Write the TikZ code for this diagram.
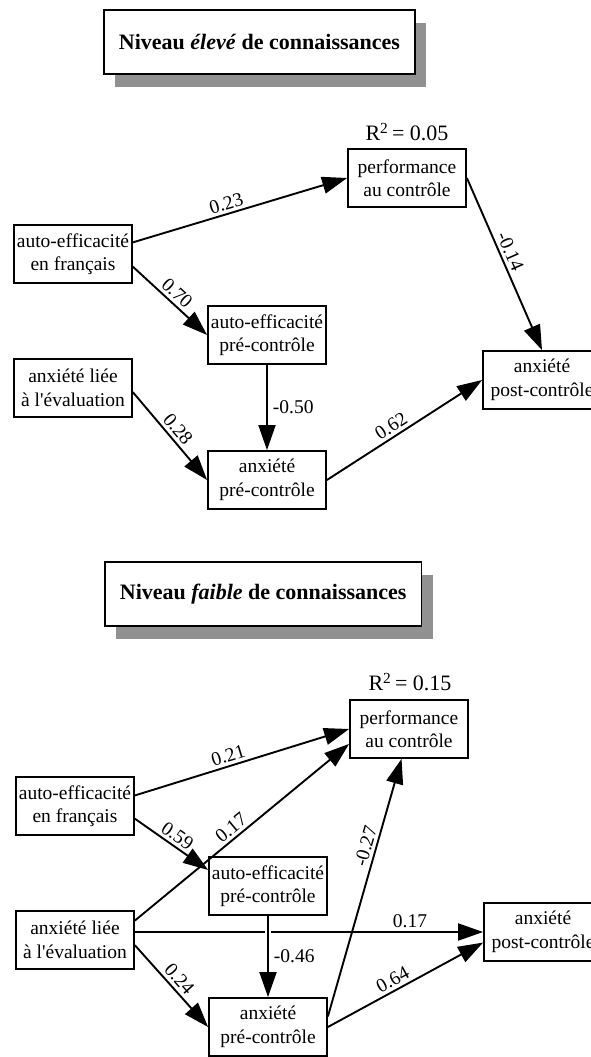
\documentclass[tikz,border=0pt]{standalone}
\usepackage{xcolor}
\usepackage{fontspec}
\setmainfont{Liberation Serif}
\usepackage{tikz}
\usetikzlibrary{arrows.meta,shadows}

\definecolor{shadowgray}{RGB}{145,145,145}

\begin{document}
\begin{tikzpicture}[x=1pt,y=-1pt,
	var/.style={draw, line width=1.8pt, fill=white, minimum width=118pt, minimum height=58pt, inner sep=1pt, align=center, font=\fontsize{19.5}{23.5}\selectfont},
	titlebox/.style={draw, line width=1.8pt, fill=white, minimum height=64pt, inner xsep=15pt, anchor=west, font=\fontsize{22}{26}\selectfont\bfseries, drop shadow={shadow xshift=11pt, shadow yshift=-13pt, fill=shadowgray, opacity=1}},
	rsq/.style={font=\fontsize{22}{26}\selectfont},
	effect/.style={draw, line width=1.9pt, -{Triangle[length=25pt,width=17pt]}},
	coef/.style={font=\fontsize{19.5}{23.5}\selectfont, sloped, above, inner sep=3pt},
	coefv/.style={font=\fontsize{19.5}{23.5}\selectfont, right, inner sep=5pt}]
	\path[fill=white] (0,0) rectangle (591,1057);
	\useasboundingbox (0,0) rectangle (591,1057);

	% niveau eleve
	\path (103,42) node[titlebox] (title1) {Niveau \textit{élevé} de connaissances};
	\path (407,132) node[rsq] (r1) {R\textsuperscript{2}\,= 0.05};
	\path (407,178) node[var] (perf1) {performance\\au contrôle};
	\path (73,254) node[var] (A1) {auto-efficacité\\en français};
	\path (267,335) node[var] (B1) {auto-efficacité\\pré-contrôle};
	\path (73,388) node[var] (C1) {anxiété liée\\à l\textquotesingle évaluation};
	\path (267,480) node[var] (D1) {anxiété\\pré-contrôle};
	\path (542,380) node[var] (E1) {anxiété\\post-contrôle};

	\draw[effect] (A1.11) -- (perf1.west) node[coef,pos=0.45] (c1a) {0.23};
	\draw[effect] (A1.-12) -- (B1.west) node[coef,pos=0.5] (c1b) {0.70};
	\draw[effect] (perf1.east) -- (E1.north) node[coef,pos=0.45] (c1c) {-0.14};
	\draw[effect] (B1.south) -- (D1.north) node[coefv,midway] (c1d) {-0.50};
	\draw[effect] (C1.-4) -- (D1.west) node[coef,pos=0.5] (c1e) {0.28};
	\draw[effect] (D1.east) -- (E1.west) node[coef,pos=0.45] (c1f) {0.62};

	% niveau faible
	\path (104,594) node[titlebox] (title2) {Niveau \textit{faible} de connaissances};
	\path (410,682) node[rsq] (r2) {R\textsuperscript{2}\,= 0.15};
	\path (409,729) node[var] (perf2) {performance\\au contrôle};
	\path (75,806) node[var] (A2) {auto-efficacité\\en français};
	\path (268,886) node[var] (B2) {auto-efficacité\\pré-contrôle};
	\path (75,940) node[var] (C2) {anxiété liée\\à l\textquotesingle évaluation};
	\path (268,1027) node[var] (D2) {anxiété\\pré-contrôle};
	\path (543,932) node[var] (E2) {anxiété\\post-contrôle};

	\draw[effect] (A2.10) -- (perf2.west) node[coef,pos=0.45] (c2a) {0.21};
	\draw[effect] (A2.-12) -- (B2.165) node[coef,pos=0.5] (c2b) {0.59};
	\draw[effect] (C2.18) -- (perf2.194) node[coef,pos=0.48] (c2c) {0.17};
	\draw[effect] (C2.east |- E2.west) -- (E2.west) node[coef,pos=0.79] (c2d) {0.17};
	\draw[white, line width=6pt, shorten <=10pt, shorten >=10pt] (B2.south) -- (D2.north);
	\draw[effect] (B2.south) -- (D2.north) node[coefv,midway] (c2e) {-0.46};
	\draw[effect] (C2.-5) -- (D2.west) node[coef,pos=0.5] (c2f) {0.24};
	\draw[effect] (D2.east) -- (E2.190) node[coef,pos=0.45] (c2g) {0.64};
	\draw[effect] (D2.10) -- (perf2.-104) node[coef,pos=0.65] (c2h) {-0.27};
\end{tikzpicture}
\end{document}
